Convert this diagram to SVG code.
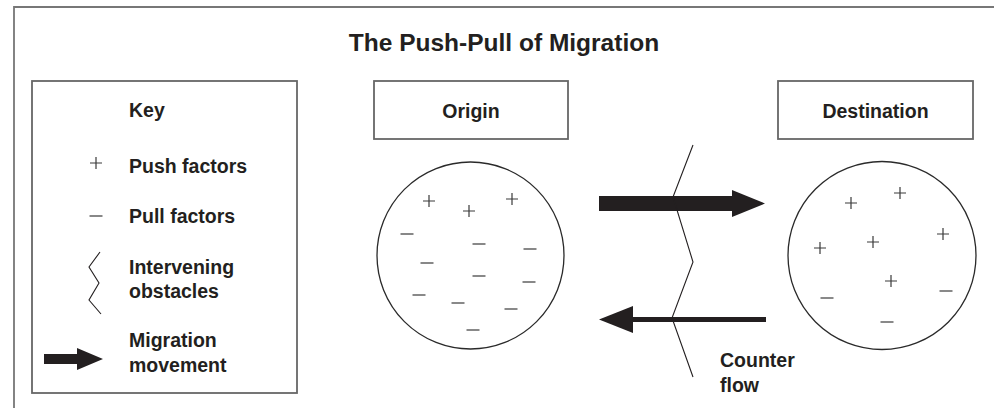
<svg xmlns="http://www.w3.org/2000/svg" width="994" height="408" viewBox="0 0 994 408">
<style>
.t{font-family:"Liberation Sans",Arial,sans-serif;font-weight:bold;fill:#231f20;font-size:19.5px}
.box{fill:#fff;stroke:#666;stroke-width:1.8}
.circ{fill:#fff;stroke:#2a2a2a;stroke-width:1.3}
.sym{stroke:#3a3a3a;stroke-width:1.2;fill:none}
.zig{stroke:#231f20;stroke-width:1.1;fill:none}
.fill{fill:#231f20}
</style>
<defs>
<path id="plus" d="M-6,0H6M0,-6V6" class="sym"/>
<path id="minus" d="M-6.5,0H6.5" class="sym"/>
</defs>
<rect width="994" height="408" fill="#fff"/>
<path d="M14,408V7H994" fill="none" stroke="#777" stroke-width="1.8"/>
<g id="title"><text x="504" y="51" class="t" style="font-size:24.5px" text-anchor="middle">The Push-Pull of Migration</text></g>
<g id="key">
<rect x="32" y="81" width="265" height="312" class="box"/>
<text x="129" y="117" class="t">Key</text>
<use href="#plus" x="96" y="163"/>
<text x="129" y="173" class="t">Push factors</text>
<use href="#minus" x="96" y="216"/>
<text x="129" y="223" class="t">Pull factors</text>
<path d="M100,252L89,267L99,283L89,300L101,314" class="zig"/>
<text x="129" y="274" class="t">Intervening</text>
<text x="129" y="298" class="t">obstacles</text>
<path d="M44,354H77V348L103,359L77,370V364H44Z" class="fill"/>
<text x="129" y="347" class="t">Migration</text>
<text x="129" y="372" class="t">movement</text>
</g>
<g id="origin">
<rect x="374" y="81" width="194" height="58" class="box"/>
<text x="471" y="118" class="t" text-anchor="middle">Origin</text>
</g>
<g id="destination">
<rect x="778" y="81" width="195" height="58" class="box"/>
<text x="875.5" y="118" class="t" text-anchor="middle">Destination</text>
</g>
<g id="origin-region">
<circle cx="470.5" cy="255.5" r="93.5" class="circ"/>
<use href="#plus" x="429" y="201"/>
<use href="#plus" x="469" y="211"/>
<use href="#plus" x="512" y="199"/>
<use href="#minus" x="407" y="234"/>
<use href="#minus" x="479" y="244"/>
<use href="#minus" x="530" y="249"/>
<use href="#minus" x="427" y="263"/>
<use href="#minus" x="479" y="276"/>
<use href="#minus" x="529" y="282"/>
<use href="#minus" x="419" y="295"/>
<use href="#minus" x="458" y="303"/>
<use href="#minus" x="511" y="309"/>
<use href="#minus" x="473" y="330"/>
</g>
<g id="destination-region">
<circle cx="882" cy="255.5" r="94" class="circ"/>
<use href="#plus" x="851" y="203"/>
<use href="#plus" x="900" y="193"/>
<use href="#plus" x="820" y="248"/>
<use href="#plus" x="873" y="242"/>
<use href="#plus" x="943" y="234"/>
<use href="#plus" x="891" y="281"/>
<use href="#minus" x="827" y="298"/>
<use href="#minus" x="946" y="291"/>
<use href="#minus" x="887" y="322"/>
</g>
<g id="connectors">
<path d="M599,196H732V190L765,203.5L732,217V211H599Z" class="fill"/>
<path d="M632,319.5H766" stroke="#231f20" stroke-width="5" fill="none"/>
<path d="M599,319.5L633,306V333Z" class="fill"/>
</g>
<g id="obstacles">
<path d="M693,145L673,197L693,262L672,318L693,377" class="zig"/>
</g>
<g id="counter-flow">
<text x="720" y="367" class="t">Counter</text>
<text x="720" y="392" class="t">flow</text>
</g>
</svg>
